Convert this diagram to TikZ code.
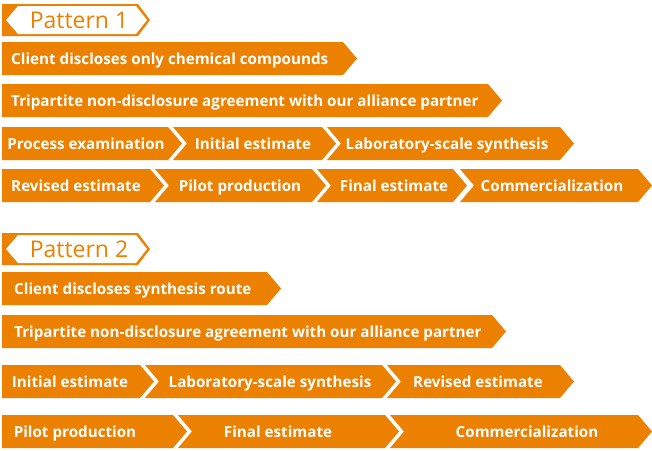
\documentclass[tikz,border=0pt]{standalone}
\usepackage{fontspec}
\setmainfont{Open Sans}
\usepackage{xcolor}
\definecolor{barorange}{RGB}{236,128,0}

\begin{document}
\begin{tikzpicture}[x=1pt, y=-1pt,
  bar/.style={fill=barorange},
  barlbl/.style={text=white, inner sep=0pt, font=\fontsize{15.2}{18}\selectfont\bfseries},
  patlbl/.style={text=barorange, inner sep=0pt, font=\fontsize{23}{27}\selectfont}]
  \useasboundingbox (0,0) rectangle (652,450);
  \def\dp{14}
  % pattern headings
  \foreach \yt/\num in {4/1, 233/2} {
    \fill[bar] (2,\yt) -- (138,\yt) -- (150,\yt+16) -- (138,\yt+32) -- (2,\yt+32) -- cycle;
    \fill[white] (18,\yt+2) -- (136,\yt+2) -- (147,\yt+16) -- (136,\yt+30) -- (18,\yt+30) -- (6,\yt+16) -- cycle;
    \node[patlbl, anchor=base] (pat\num) at (79,\yt+24.5) {Pattern \num};
  }
  % steps: left/right/top/notch/text x/anchor/text
  \foreach \xa/\xb/\yt/\nt/\tx/\an/\txt [count=\i] in {
    2/343/42/0/11/base west/Client discloses only chemical compounds,
    2/488/84/0/11/base west/Tripartite non-disclosure agreement with our alliance partner,
    2/168/127/0/86/base/Process examination,
    173/322/127/1/253/base/Initial estimate,
    327/560/127/1/447/base/Laboratory-scale synthesis,
    2/150/169/0/76/base/Revised estimate,
    155/312/169/1/240/base/Pilot production,
    317/453/169/1/394/base/Final estimate,
    460/638/169/1/552/base/Commercialization,
    2/267/272/0/14/base west/Client discloses synthesis route,
    2/492/315/0/14/base west/Tripartite non-disclosure agreement with our alliance partner,
    2/140/365/0/70/base/Initial estimate,
    145/382/365/1/270/base/Laboratory-scale synthesis,
    387/560/365/1/478/base/Revised estimate,
    2/173/415/0/75/base/Pilot production,
    178/385/415/1/278/base/Final estimate,
    390/638/415/1/527/base/Commercialization} {
    \fill[bar] (\xa,\yt) -- (\xb,\yt) -- (\xb+\dp,\yt+16.5) -- (\xb,\yt+33) -- (\xa,\yt+33) -- (\xa+\nt*\dp,\yt+16.5) -- cycle;
    \node[barlbl, anchor=\an] (step\i) at (\tx,\yt+22.5) {\txt};
  }
\end{tikzpicture}
\end{document}
